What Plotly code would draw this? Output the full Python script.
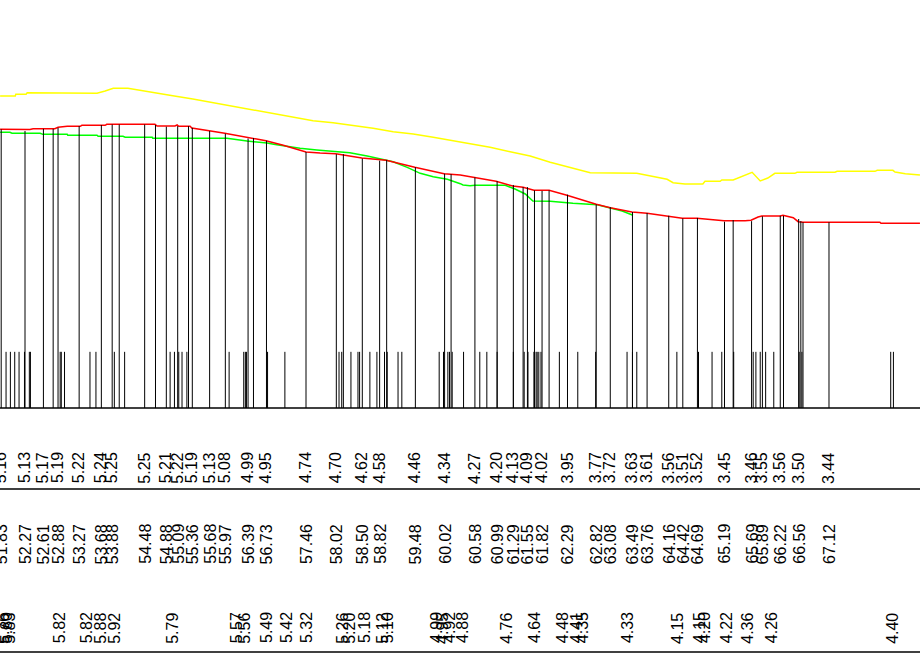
import plotly.graph_objects as go

# ---------------- data ----------------
# event times (labelled) and the survival value at each event
event_age = [51.83, 52.27, 52.61, 52.88, 53.27, 53.68, 53.88, 54.48, 54.88, 55.09,
             55.36, 55.68, 55.97, 56.39, 56.73, 57.46, 58.02, 58.50, 58.82, 59.48,
             60.02, 60.58, 60.99, 61.29, 61.55, 61.82, 62.29, 62.82, 63.08, 63.49,
             63.76, 64.16, 64.42, 64.69, 65.19, 65.69, 65.89, 66.22, 66.56, 67.12]
event_val = [5.16, 5.13, 5.17, 5.19, 5.22, 5.24, 5.25, 5.25, 5.21, 5.22,
             5.19, 5.13, 5.08, 4.99, 4.95, 4.74, 4.70, 4.62, 4.58, 4.46,
             4.34, 4.27, 4.20, 4.13, 4.09, 4.02, 3.95, 3.77, 3.72, 3.63,
             3.61, 3.56, 3.51, 3.52, 3.45, 3.46, 3.55, 3.56, 3.50, 3.44]

# further (unlabelled) event lines
extra_age = [52.79, 54.01, 54.68, 55.29, 56.49, 58.15, 58.95, 60.14,
             61.47, 61.68, 61.95, 65.35, 66.28, 66.60, 66.64]
extra_val = [5.17, 5.25, 5.24, 5.22, 5.00, 4.70, 4.59, 4.33,
             4.09, 4.03, 4.03, 3.48, 3.56, 3.46, 3.44]

# red curve
red_age = [51.81, 52.36, 52.42, 52.82, 52.88, 53.05, 53.29, 53.32, 53.75, 53.78,
           54.67, 54.71, 55.04, 55.08, 55.11, 55.32, 55.35, 55.50, 55.67, 55.96,
           56.37, 56.72, 57.04, 57.46, 57.72, 58.01, 58.49, 58.94, 59.47, 60.01,
           60.31, 60.58, 60.97, 61.28, 61.47, 61.67, 61.95, 62.28, 62.82, 63.08,
           63.48, 63.76, 64.15, 64.41, 64.68, 64.92, 65.18, 65.57, 65.68, 65.81,
           65.88, 66.22, 66.27, 66.46, 66.55, 66.64, 68.06, 68.08, 68.80]
red_val = [5.161, 5.157, 5.172, 5.172, 5.198, 5.217, 5.217, 5.235, 5.235, 5.254,
           5.254, 5.222, 5.222, 5.241, 5.217, 5.217, 5.185, 5.167, 5.135, 5.087,
           5.013, 4.950, 4.865, 4.741, 4.722, 4.709, 4.630, 4.587, 4.457, 4.339,
           4.315, 4.272, 4.198, 4.110, 4.087, 4.031, 4.031, 3.939, 3.772, 3.709,
           3.630, 3.606, 3.543, 3.513, 3.513, 3.491, 3.469, 3.469, 3.476, 3.537,
           3.556, 3.556, 3.569, 3.524, 3.450, 3.439, 3.439, 3.420, 3.420]

# green curve
green_age = [51.81, 51.99, 52.03, 52.55, 52.60, 53.05, 53.06, 53.60, 53.62, 54.08,
             54.12, 54.62, 54.63, 56.00, 56.37, 56.61, 56.74, 56.89, 57.04, 57.35,
             57.66, 57.96, 58.27, 58.59, 58.88, 59.07, 59.33, 59.57, 59.81, 60.07,
             60.31, 60.36, 60.49, 60.58, 61.14, 61.32, 61.51, 61.65, 61.97, 62.15,
             62.39, 62.84, 63.08, 63.30, 63.50]
green_val = [5.106, 5.106, 5.087, 5.087, 5.068, 5.068, 5.050, 5.050, 5.031, 5.031,
             5.013, 5.013, 4.994, 4.994, 4.944, 4.926, 4.907, 4.880, 4.857, 4.809,
             4.778, 4.759, 4.728, 4.667, 4.605, 4.561, 4.457, 4.346, 4.283, 4.235,
             4.154, 4.130, 4.117, 4.124, 4.124, 4.056, 3.963, 3.833, 3.828, 3.809,
             3.791, 3.765, 3.704, 3.648, 3.569]

# yellow curve
yellow_age = [51.81, 52.09, 52.10, 52.29, 52.31, 52.38, 52.40, 53.60, 53.75, 53.90,
              54.17, 54.27, 54.63, 55.00, 55.37, 55.74, 56.11, 56.48, 56.85, 57.22,
              57.59, 57.96, 58.33, 58.70, 59.07, 59.44, 59.81, 60.12, 60.49, 60.86,
              61.23, 61.60, 61.97, 62.34, 62.71, 63.57, 63.81, 64.13, 64.24, 64.46,
              64.79, 64.83, 65.11, 65.14, 65.35, 65.70, 65.85, 65.99, 66.12, 66.49,
              66.53, 67.23, 67.27, 67.97, 68.01, 68.30, 68.34, 68.53, 68.80]
yellow_val = [5.778, 5.778, 5.809, 5.809, 5.839, 5.839, 5.828, 5.828, 5.870, 5.920,
              5.920, 5.902, 5.846, 5.783, 5.722, 5.654, 5.587, 5.519, 5.457, 5.394,
              5.320, 5.283, 5.235, 5.180, 5.117, 5.074, 5.013, 4.957, 4.902, 4.828,
              4.746, 4.667, 4.550, 4.450, 4.357, 4.346, 4.296, 4.235, 4.172, 4.148,
              4.148, 4.198, 4.198, 4.222, 4.222, 4.365, 4.204, 4.259, 4.346, 4.346,
              4.365, 4.365, 4.383, 4.383, 4.402, 4.402, 4.370, 4.339, 4.315]

# labelled points on the yellow curve
ylab_age = [51.88, 51.94, 51.99, 52.92, 53.42, 53.67, 53.93, 55.00, 56.19, 56.33,
            56.74, 57.11, 57.48, 58.14, 58.27, 58.55, 58.88, 58.98, 59.88, 59.99,
            60.12, 60.36, 61.17, 61.69, 62.21, 62.47, 62.58, 63.41, 64.33, 64.74,
            64.83, 65.24, 65.62, 66.07, 68.30]
ylab_val = [5.76, 5.80, 5.83, 5.82, 5.82, 5.88, 5.92, 5.79, 5.57, 5.56,
            5.49, 5.42, 5.32, 5.26, 5.20, 5.18, 5.12, 5.10, 4.99, 4.95,
            4.92, 4.88, 4.76, 4.64, 4.48, 4.41, 4.35, 4.33, 4.15, 4.15,
            4.20, 4.22, 4.36, 4.26, 4.40]

# rug (censoring) marks
rug_age = [51.92, 52.00, 52.08, 52.16, 52.26, 52.35, 52.37, 52.92, 52.94, 53.00,
           53.47, 53.58, 53.92, 54.11, 54.95, 55.03, 55.11, 55.17, 55.26, 56.04,
           56.31, 56.34, 56.36, 56.75, 57.07, 58.07, 58.12, 58.29, 58.42, 58.45,
           58.64, 58.77, 58.91, 58.96, 59.16, 59.23, 59.92, 60.00, 60.08, 60.11,
           60.16, 60.37, 60.67, 60.80, 60.99, 61.29, 61.49, 61.56, 61.67, 61.71,
           61.73, 61.76, 61.80, 62.14, 62.48, 62.81, 63.39, 63.49, 63.57, 64.31,
           64.71, 64.96, 65.14, 65.36, 65.72, 65.77, 65.85, 65.95, 66.10, 66.28,
           66.57, 66.62, 68.26, 68.31]

# ---------------- layout constants ----------------
X_RANGE = [51.808, 68.801]
Y_RANGE = [-4.8704, 7.5556]
RUG_LEN = 1.04
ROW1_Y, ROW2_Y, ROW3_Y = -1.111, -2.519, -4.074
SEP_Y = [0.0, -1.5, -4.519]
FONT = dict(family="Liberation Sans, Arial, sans-serif", size=16, color="black")

fig = go.Figure()


def segs(xs, y0s, y1s):
    X, Y = [], []
    for x, a, b in zip(xs, y0s, y1s):
        X += [x, x, None]
        Y += [a, b, None]
    return X, Y


# rug marks
rx, ry = segs(rug_age, [0] * len(rug_age), [RUG_LEN] * len(rug_age))
fig.add_trace(go.Scatter(x=rx, y=ry, mode="lines", line=dict(color="black", width=1),
                         hoverinfo="skip"))

# curves
fig.add_trace(go.Scatter(x=yellow_age, y=yellow_val, mode="lines",
                         line=dict(color="#ffff00", width=1.5), hoverinfo="skip"))
fig.add_trace(go.Scatter(x=green_age, y=green_val, mode="lines",
                         line=dict(color="#00ff00", width=1.5), hoverinfo="skip"))
fig.add_trace(go.Scatter(x=red_age, y=red_val, mode="lines",
                         line=dict(color="#ff0000", width=1.5), hoverinfo="skip"))

# event lines
all_age = event_age + extra_age
all_val = event_val + extra_val
ex, ey = segs(all_age, [0] * len(all_age), all_val)
fig.add_trace(go.Scatter(x=ex, y=ey, mode="lines", line=dict(color="black", width=1),
                         hoverinfo="skip"))

# separators
for yv in SEP_Y:
    fig.add_shape(type="line", xref="paper", x0=0, x1=1, yref="y", y0=yv, y1=yv,
                  line=dict(color="black", width=1.5))

ann = []
for a, v in zip(event_age, event_val):
    ann.append(dict(x=a, y=ROW1_Y, text=f"{v:.2f}", textangle=-90, showarrow=False,
                    xanchor="center", yanchor="middle", font=FONT))
    ann.append(dict(x=a, y=ROW2_Y, text=f"{a:.2f}", textangle=-90, showarrow=False,
                    xanchor="center", yanchor="middle", font=FONT))
for a, v in zip(ylab_age, ylab_val):
    ann.append(dict(x=a, y=ROW3_Y, text=f"{v:.2f}", textangle=-90, showarrow=False,
                    xanchor="center", yanchor="middle", font=FONT))

fig.update_layout(
    width=920, height=671,
    margin=dict(l=0, r=0, t=0, b=0, pad=0),
    paper_bgcolor="white", plot_bgcolor="white",
    showlegend=False,
    xaxis=dict(range=X_RANGE, visible=False, fixedrange=True),
    yaxis=dict(range=Y_RANGE, visible=False, fixedrange=True),
    annotations=ann,
)

fig.write_html("out.html", config={"displayModeBar": False})
